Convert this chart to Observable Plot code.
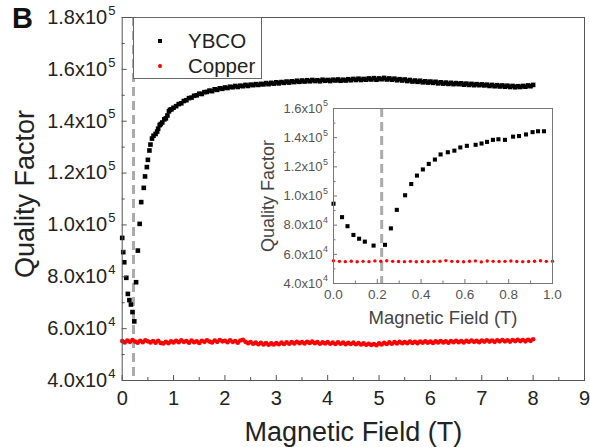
<!DOCTYPE html>
<html><head><meta charset="utf-8">
<script src="https://cdn.jsdelivr.net/npm/d3@7"></script>
<script src="https://cdn.jsdelivr.net/npm/@observablehq/plot@0.6"></script>
<style>
html,body{margin:0;padding:0;background:#fff;}
#wrap{position:relative;width:590px;height:447px;font-family:"Liberation Sans",Arial,Helvetica,sans-serif;overflow:hidden;}
#wrap svg{position:absolute;left:0;top:0;}
#panel{position:absolute;left:12px;top:2px;font-weight:bold;font-size:29px;color:#111;}
#legend{position:absolute;left:133px;top:17px;width:129px;height:62px;border:1px solid #666;background:#fff;box-sizing:border-box;}
#legend .t{position:absolute;left:54px;font-size:20.5px;line-height:22px;color:#222;white-space:nowrap;}
#legend .m{position:absolute;border-radius:50%;}
</style></head><body><div id="wrap"></div>
<script>
// ---------------- data ----------------
const seriesNames = ["YBCO", "Copper"];
const seriesColors = ["#000000", "#ff0000"];
const dashField = 0.22;

// main panel, YBCO: [field (T), quality factor]
const ybcoMain = [
[0.00,95000],[0.02,89500],[0.04,85600],[0.08,79600],[0.11,73400],[0.14,71000],[0.17,69300],[0.20,66400],[0.235,62800],
[0.27,77900],[0.305,90100],[0.34,100400],[0.37,108800],[0.42,114300],[0.445,118700],[0.48,122300],[0.50,125100],[0.53,128700],
[0.55,131000],[0.58,133300],[0.61,134400],[0.65,135100],[0.68,136000],[0.70,137100],[0.73,138500],[0.75,138900],[0.78,139500],
[0.82,140700],[0.85,141100],[0.88,142200],[0.91,143800],[0.93,144400],[0.96,144600],[1.00,145200],
[1.05,145800],[1.10,146600],[1.15,146900],[1.20,147800],[1.25,148100],[1.30,148900],[1.35,149100],[1.40,149800],[1.45,150000],[1.50,150600],
[1.55,150500],[1.60,151200],[1.65,151300],[1.70,151800],[1.75,151600],[1.80,152300],[1.85,152100],[1.90,152700],[1.95,152500],[2.00,153000],
[2.05,152800],[2.10,153300],[2.15,153100],[2.20,153600],[2.25,153200],[2.30,153700],[2.35,153500],[2.40,154000],[2.45,153600],[2.50,154100],
[2.55,153900],[2.60,154300],[2.65,154000],[2.70,154400],[2.75,154200],[2.80,154700],[2.85,154300],[2.90,154800],[2.95,154500],[3.00,155000],
[3.05,154600],[3.10,155100],[3.15,154800],[3.20,155300],[3.25,154900],[3.30,155400],[3.35,155100],[3.40,155600],[3.45,155200],[3.50,155700],
[3.55,155300],[3.60,155800],[3.65,155400],[3.70,155900],[3.75,155500],[3.80,155800],[3.85,155400],[3.90,156000],[3.95,155600],[4.00,155900],
[4.05,155500],[4.10,156000],[4.15,155700],[4.20,156100],[4.25,155600],[4.30,156000],[4.35,155700],[4.40,156200],[4.45,155800],[4.50,156300],
[4.55,155900],[4.60,156400],[4.65,155900],[4.70,156300],[4.75,156000],[4.80,156500],[4.85,156100],[4.90,156600],[4.95,156000],[5.00,156500],
[5.05,156200],[5.10,156700],[5.15,156100],[5.20,156500],[5.25,156000],[5.30,156400],[5.35,155800],[5.40,156200],[5.45,155700],[5.50,156100],
[5.55,155500],[5.60,155900],[5.65,155300],[5.70,155700],[5.75,155200],[5.80,155600],[5.85,155000],[5.90,155400],[5.95,154900],[6.00,155300],
[6.05,154800],[6.10,155200],[6.15,154600],[6.20,155000],[6.25,154500],[6.30,154900],[6.35,154400],[6.40,154800],[6.45,154300],[6.50,154700],
[6.55,154300],[6.60,154600],[6.65,154100],[6.70,154500],[6.75,154000],[6.80,154400],[6.85,153900],[6.90,154300],[6.95,153900],[7.00,154200],
[7.05,153800],[7.10,154100],[7.15,153600],[7.20,154000],[7.25,153500],[7.30,153900],[7.35,153400],[7.40,153800],[7.45,153300],[7.50,153700],
[7.55,153200],[7.60,153600],[7.65,153100],[7.70,153500],[7.75,153200],[7.80,153600],[7.85,153300],[7.90,153800],[7.95,153500],[8.00,154000]
];

// main panel, Copper
const copperMain = [
[0.00,55200],[0.05,54700],[0.10,55400],[0.15,54900],[0.20,55600],[0.25,55000],[0.30,54600],[0.35,55300],[0.40,54800],[0.45,55500],
[0.50,55100],[0.55,54700],[0.60,55200],[0.65,54600],[0.70,55300],[0.75,54500],[0.80,54300],[0.85,54900],[0.90,54400],[0.95,55100],
[1.00,54700],[1.05,55300],[1.10,54800],[1.15,55500],[1.20,54900],[1.25,55200],[1.30,54600],[1.35,55400],[1.40,54800],[1.45,55100],
[1.50,54500],[1.55,55300],[1.60,54900],[1.65,55500],[1.70,55000],[1.75,54700],[1.80,55400],[1.85,54900],[1.90,55600],[1.95,55100],
[2.00,55300],[2.05,54800],[2.10,55500],[2.15,54900],[2.20,55200],[2.25,54600],[2.30,55400],[2.35,55700],[2.40,54900],[2.45,54400],
[2.50,54800],[2.55,54200],[2.60,54600],[2.65,54000],[2.70,54500],[2.75,53900],[2.80,54400],[2.85,53800],[2.90,54300],[2.95,53900],
[3.00,54400],[3.05,54000],[3.10,54600],[3.15,54100],[3.20,54700],[3.25,54200],[3.30,54800],[3.35,54300],[3.40,54900],[3.45,54400],
[3.50,54800],[3.55,54300],[3.60,54900],[3.65,54500],[3.70,55000],[3.75,54400],[3.80,54800],[3.85,54200],[3.90,54700],[3.95,54300],
[4.00,54800],[4.05,54200],[4.10,54600],[4.15,54100],[4.20,54700],[4.25,54200],[4.30,54600],[4.35,54000],[4.40,54500],[4.45,54100],
[4.50,54600],[4.55,54000],[4.60,54400],[4.65,53900],[4.70,54300],[4.75,53800],[4.80,54200],[4.85,53700],[4.90,54100],[4.95,53600],
[5.00,54300],[5.05,53900],[5.10,54500],[5.15,54100],[5.20,54700],[5.25,54200],[5.30,54800],[5.35,54300],[5.40,54900],[5.45,54400],
[5.50,54800],[5.55,54400],[5.60,55000],[5.65,54500],[5.70,54900],[5.75,54400],[5.80,55000],[5.85,54600],[5.90,55100],[5.95,54600],
[6.00,55000],[6.05,54500],[6.10,55100],[6.15,54700],[6.20,55200],[6.25,54700],[6.30,55100],[6.35,54600],[6.40,55200],[6.45,54800],
[6.50,55300],[6.55,54800],[6.60,55200],[6.65,54700],[6.70,55300],[6.75,54900],[6.80,55400],[6.85,54900],[6.90,55300],[6.95,54800],
[7.00,55400],[7.05,55000],[7.10,55500],[7.15,55000],[7.20,55400],[7.25,54900],[7.30,55500],[7.35,55100],[7.40,55600],[7.45,55100],
[7.50,55500],[7.55,55000],[7.60,55600],[7.65,55200],[7.70,55700],[7.75,55200],[7.80,55600],[7.85,55100],[7.90,55700],[7.95,55300],[8.00,55900]
];

// inset, YBCO (0–1 T)
const ybcoInset = [
[0.000,94700],[0.039,85500],[0.064,79300],[0.091,73300],[0.117,70700],[0.143,68700],[0.183,66000],[0.235,66500],
[0.262,77800],[0.289,90500],[0.327,100500],[0.355,108200],[0.381,114000],[0.408,118200],[0.435,122000],[0.463,125000],
[0.489,128500],[0.522,130000],[0.552,131100],[0.579,133300],[0.609,134400],[0.649,135100],[0.676,136000],[0.701,137100],
[0.728,138500],[0.753,138900],[0.783,138500],[0.820,140700],[0.847,141100],[0.879,142200],[0.909,143800],[0.934,144400],[0.961,144400]
];

// inset, Copper (0–1 T)
const copperInset = [
[0.000,55600],[0.027,55200],[0.054,55000],[0.081,55300],[0.108,54900],[0.135,55200],[0.162,55000],[0.189,55500],[0.216,55300],
[0.243,55600],[0.270,55200],[0.297,55100],[0.324,55000],[0.351,55200],[0.378,54900],[0.405,55100],[0.432,55000],[0.459,55200],
[0.486,55300],[0.513,55700],[0.540,55200],[0.567,55100],[0.594,54900],[0.621,55300],[0.648,55500],[0.675,54800],[0.702,55400],
[0.729,55200],[0.756,55100],[0.783,55200],[0.810,55400],[0.837,55100],[0.864,55000],[0.891,55100],[0.918,55300],[0.945,55600],[0.972,55200],[1.000,55300]
];

// ticks
const mainXTicks = [0,1,2,3,4,5,6,7,8,9];
const mainXLabels = ["0","1","2","3","4","5","6","7","8","9"];
const mainXMinor = [0.5,1.5,2.5,3.5,4.5,5.5,6.5,7.5,8.5];
const mainYTicks = [40000,60000,80000,100000,120000,140000,160000,180000];
const mainYMantissa = ["4.0x10","6.0x10","8.0x10","1.0x10","1.2x10","1.4x10","1.6x10","1.8x10"];
const mainYExponent = ["4","4","4","5","5","5","5","5"];
const mainYMinor = [50000,70000,90000,110000,130000,150000,170000];

const insetXTicks = [0,0.2,0.4,0.6,0.8,1.0];
const insetXLabels = ["0.0","0.2","0.4","0.6","0.8","1.0"];
const insetXMinor = [0.1,0.3,0.5,0.7,0.9];
const insetYTicks = [40000,60000,80000,100000,120000,140000,160000];
const insetYMantissa = ["4.0x10","6.0x10","8.0x10","1.0x10","1.2x10","1.4x10","1.6x10"];
const insetYExponent = ["4","4","4","5","5","5","5"];
const insetYMinor = [50000,70000,90000,110000,130000,150000];

const xTitle = "Magnetic Field (T)";
const yTitle = "Quality Factor";
const panelLabel = "B";

// ---------------- drawing ----------------
const FONT = '"Liberation Sans", Arial, Helvetica, sans-serif';
const wrap = document.getElementById("wrap");

const M = {w:590, h:447, l:121.7, r:6, t:17, b:67};
const mIW = M.w - M.l - M.r, mIH = M.h - M.t - M.b;
const axisCol = "#555";

const main = Plot.plot({
  width: M.w, height: M.h,
  marginLeft: M.l, marginRight: M.r, marginTop: M.t, marginBottom: M.b,
  x: {domain: [0, 9], axis: null},
  y: {domain: [40000, 180000], axis: null},
  style: {fontFamily: FONT, background: "transparent", overflow: "visible", color: "#222"},
  marks: [
    Plot.ruleX([dashField], {stroke: "#ababab", strokeWidth: 3, strokeDasharray: "9,5"}),
    Plot.dot(copperMain, {x: d => d[0], y: d => d[1], r: 2.3, fill: seriesColors[1], stroke: null}),
    Plot.dot(ybcoMain, {x: d => d[0], y: d => d[1], symbol: "square", r: 2.6, fill: seriesColors[0], stroke: null}),
    Plot.frame({stroke: axisCol, strokeWidth: 1}),
    Plot.tickX(mainXTicks, {x: d => d, insetTop: mIH - 5, stroke: axisCol}),
    Plot.tickX(mainXMinor, {x: d => d, insetTop: mIH - 3, stroke: axisCol}),
    Plot.tickY(mainYTicks, {y: d => d, insetRight: mIW - 5, stroke: axisCol}),
    Plot.tickY(mainYMinor, {y: d => d, insetRight: mIW - 3, stroke: axisCol}),
    Plot.text(mainXTicks, {x: d => d, frameAnchor: "bottom", dy: 18, text: (d, i) => mainXLabels[i], fontSize: 20, textAnchor: "middle", lineAnchor: "middle", fill: "#222"}),
    Plot.text(mainYTicks, {y: d => d, frameAnchor: "left", dx: -15, text: (d, i) => mainYMantissa[i], textAnchor: "end", fontSize: 20, lineAnchor: "middle", fill: "#222"}),
    Plot.text(mainYTicks, {y: d => d, frameAnchor: "left", dx: -14, dy: -7, text: (d, i) => mainYExponent[i], textAnchor: "start", fontSize: 13, lineAnchor: "middle", fill: "#222"}),
    Plot.text([xTitle], {frameAnchor: "bottom", dy: 52, fontSize: 27, textAnchor: "middle", lineAnchor: "middle", fill: "#222"}),
    Plot.text([yTitle], {frameAnchor: "left", dx: -97, dy: -5, rotate: -90, fontSize: 27, textAnchor: "middle", lineAnchor: "middle", fill: "#222"})
  ]
});
wrap.appendChild(main);

const I = {left:250, top:95, w:340, h:245, l:83, r:38, t:13, b:57};
const iIW = I.w - I.l - I.r, iIH = I.h - I.t - I.b;
const insetCol = "#777";
const inset = Plot.plot({
  width: I.w, height: I.h,
  marginLeft: I.l, marginRight: I.r, marginTop: I.t, marginBottom: I.b,
  x: {domain: [0, 1], axis: null},
  y: {domain: [40000, 160000], axis: null},
  style: {fontFamily: FONT, background: "transparent", overflow: "visible"},
  marks: [
    Plot.ruleX([dashField], {stroke: "#ababab", strokeWidth: 3, strokeDasharray: "9,5"}),
    Plot.dot(copperInset, {x: d => d[0], y: d => d[1], r: 1.7, fill: seriesColors[1], stroke: null}),
    Plot.dot(ybcoInset, {x: d => d[0], y: d => d[1], symbol: "square", r: 2.3, fill: seriesColors[0], stroke: null}),
    Plot.frame({stroke: insetCol, strokeWidth: 1}),
    Plot.tickX(insetXTicks, {x: d => d, insetTop: iIH - 4, stroke: insetCol}),
    Plot.tickX(insetXMinor, {x: d => d, insetTop: iIH - 2.5, stroke: insetCol}),
    Plot.tickY(insetYTicks, {y: d => d, insetRight: iIW - 4, stroke: insetCol}),
    Plot.tickY(insetYMinor, {y: d => d, insetRight: iIW - 2.5, stroke: insetCol}),
    Plot.text(insetXTicks, {x: d => d, frameAnchor: "bottom", dy: 11, text: (d, i) => insetXLabels[i], fontSize: 13.5, textAnchor: "middle", lineAnchor: "middle", fill: "#555"}),
    Plot.text(insetYTicks, {y: d => d, frameAnchor: "left", dx: -11, text: (d, i) => insetYMantissa[i], textAnchor: "end", fontSize: 13, lineAnchor: "middle", fill: "#555"}),
    Plot.text(insetYTicks, {y: d => d, frameAnchor: "left", dx: -10.5, dy: -5, text: (d, i) => insetYExponent[i], textAnchor: "start", fontSize: 9, lineAnchor: "middle", fill: "#555"}),
    Plot.text([xTitle], {frameAnchor: "bottom", dy: 35, fontSize: 18.5, textAnchor: "middle", lineAnchor: "middle", fill: "#444"}),
    Plot.text([yTitle], {frameAnchor: "left", dx: -65, rotate: -90, fontSize: 18, textAnchor: "middle", lineAnchor: "middle", fill: "#444"})
  ]
});
inset.style.left = I.left + "px";
inset.style.top = I.top + "px";
wrap.appendChild(inset);

// legend
const legend = document.createElement("div");
legend.id = "legend";
const rows = [{c: 23, size: 4.5}, {c: 48, size: 3.8}];
seriesNames.forEach((name, i) => {
  const m = document.createElement("div");
  m.className = "m";
  const s = rows[i].size;
  m.style.cssText = `left:${26 - s/2}px;top:${rows[i].c - s/2}px;width:${s}px;height:${s}px;background:${seriesColors[i]};` + (i === 0 ? "border-radius:0;" : "");
  legend.appendChild(m);
  const t = document.createElement("div");
  t.className = "t";
  t.style.top = (rows[i].c - 11) + "px";
  t.textContent = name;
  legend.appendChild(t);
});
wrap.appendChild(legend);

const pl = document.createElement("div");
pl.id = "panel";
pl.textContent = panelLabel;
wrap.appendChild(pl);
</script>
</body></html>
